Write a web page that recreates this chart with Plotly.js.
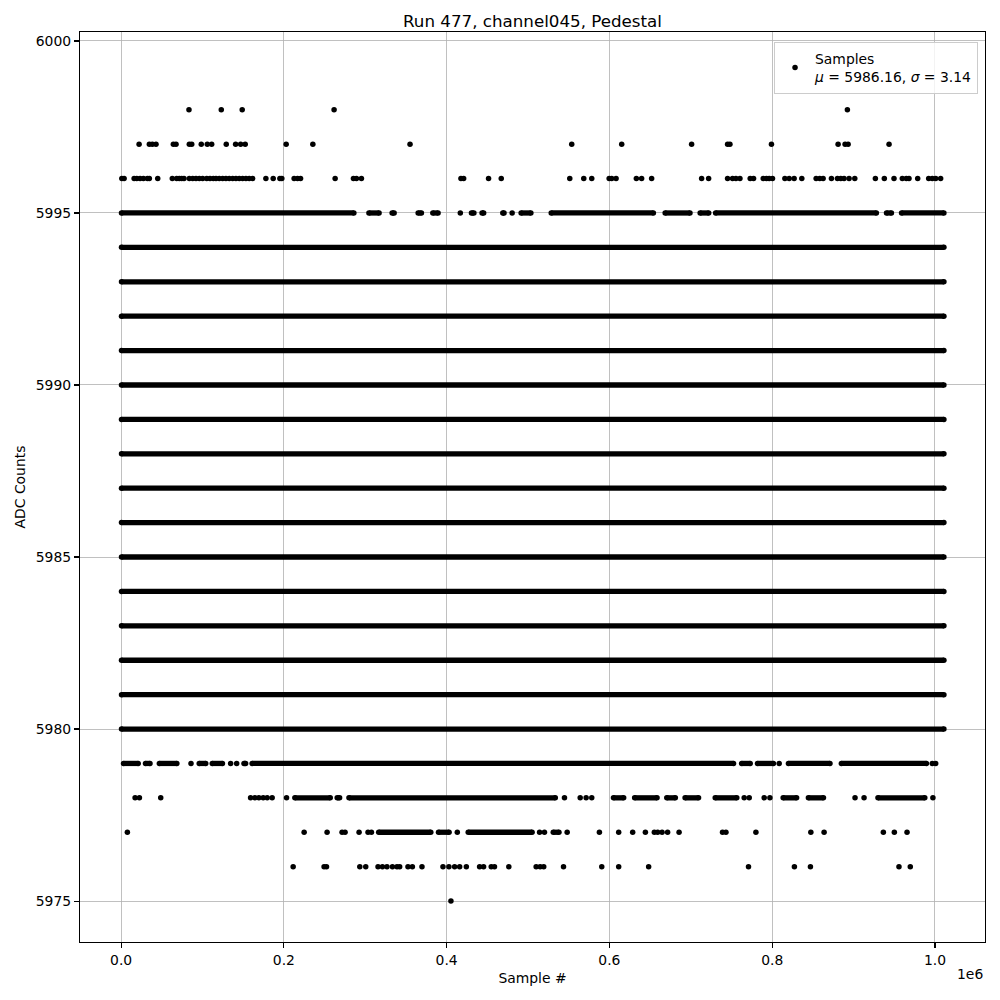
<!DOCTYPE html>
<html>
<head>
<meta charset="utf-8">
<script src="https://cdn.plot.ly/plotly-3.0.1.min.js"></script>
<style>html,body{margin:0;padding:0;background:#fff}#chart{width:1000px;height:1000px}</style>
</head>
<body>
<div id="chart"></div>
<script>
// Sample index values are in thousands of samples.
// Isolated samples (single dots), one array per ADC level
const dots5998 = [83.4, 123.1, 148.8, 261.7, 892.4];
const dots5997 = [22.1, 34.7, 38.4, 42.9, 64.2, 67.5, 83.8, 86.8, 98.5, 105.9, 111.3, 129.2, 140.7, 146.9, 152.5, 202.8, 235.6, 355.0, 553.7, 615.1, 701.0, 745.2, 748.1, 799.1, 881.0, 889.6, 893.3, 943.6];
const dots5996 = [0.9, 3.7, 16.0, 19.3, 23.3, 27.4, 32.3, 34.7, 45.0, 62.9, 68.3, 71.5, 74.5, 77.3, 83.8, 88.0, 92.0, 96.1, 100.2, 105.2, 109.2, 113.3, 116.6, 120.6, 124.8, 128.8, 132.9, 137.1, 141.1, 145.2, 149.3, 153.4, 157.4, 161.6, 177.9, 186.9, 195.1, 197.5, 212.6, 216.8, 220.5, 263.0, 285.5, 289.2, 295.3, 417.6, 420.9, 451.5, 467.1, 551.3, 568.5, 578.3, 599.7, 602.8, 608.2, 633.1, 639.6, 651.9, 713.3, 721.9, 745.2, 751.3, 755.5, 760.4, 773.0, 777.1, 789.0, 793.0, 796.3, 800.4, 815.6, 820.9, 827.0, 836.4, 854.0, 858.5, 862.6, 872.8, 880.2, 884.3, 888.3, 894.5, 901.5, 926.8, 937.8, 949.7, 959.9, 964.8, 968.1, 978.8, 992.3, 996.7, 1000.9, 1007.0];
const dots5995 = [416.8, 480.5];
const dots5979 = [85.9, 134.6, 142.0, 808.6, 996.7, 1000.9];
const dots5978 = [17.2, 22.5, 48.7, 159.1, 164.4, 169.3, 174.6, 179.5, 185.6, 203.3, 544.8, 564.1, 571.4, 578.3, 765.6, 771.8, 790.2, 797.2, 901.8, 912.9, 997.5];
const dots5977 = [7.7, 224.9, 253.1, 271.5, 275.2, 292.4, 303.4, 307.6, 413.1, 514.2, 520.2, 548.1, 587.7, 611.4, 628.6, 644.2, 655.2, 659.3, 664.7, 671.5, 685.6, 739.0, 743.2, 780.0, 847.5, 863.8, 936.6, 950.1, 965.7];
const dots5976 = [211.4, 249.4, 252.4, 293.3, 300.6, 315.7, 321.1, 326.7, 333.4, 339.0, 342.3, 352.5, 357.9, 369.7, 395.5, 402.8, 409.8, 416.0, 424.2, 440.5, 445.4, 454.8, 458.8, 476.4, 510.0, 514.9, 519.3, 543.6, 590.6, 611.4, 648.2, 770.9, 827.3, 847.0, 955.8, 969.7];
const dots5975 = [405.3];

// Continuous stretches of samples: [first, last] per ADC level
const fullRun = [[0.5, 1011.0]];
const runs5995 = [[0.5, 286.0], [304.5, 317.0], [333.0, 335.5], [365.0, 369.0], [383.0, 389.5], [430.5, 433.5], [443.5, 445.5], [469.0, 470.5], [491.5, 503.5], [528.5, 654.0], [668.5, 699.0], [711.5, 722.0], [730.5, 928.0], [940.5, 946.5], [959.0, 1011.0]];
const runs5979 = [[3.0, 21.0], [30.0, 35.5], [47.0, 68.5], [96.0, 104.0], [112.0, 124.5], [151.0, 153.0], [161.0, 752.5], [762.5, 773.0], [782.0, 801.5], [820.0, 871.0], [885.0, 989.5]];
const runs5978 = [[213.5, 257.0], [265.5, 268.5], [280.0, 533.5], [605.0, 617.5], [631.0, 658.5], [670.5, 681.0], [693.0, 709.5], [730.0, 756.5], [813.5, 830.0], [844.5, 863.0], [930.0, 987.5]];
const runs5977 = [[316.5, 380.5], [390.0, 403.0], [426.5, 505.0], [531.0, 538.0]];
const denseLevels = [5980, 5981, 5982, 5983, 5984, 5985, 5986, 5987, 5988, 5989, 5990, 5991, 5992, 5993, 5994];

const yTicks = [5975, 5980, 5985, 5990, 5995, 6000];
const xTicks = [0.0, 0.2, 0.4, 0.6, 0.8, 1.0];
const legendLabel = 'Samples<br><i>μ</i> = 5986.16, <i>σ</i> = 3.14';

const dotSets = [[5998, dots5998], [5997, dots5997], [5996, dots5996], [5995, dots5995], [5979, dots5979], [5978, dots5978], [5977, dots5977], [5976, dots5976], [5975, dots5975]];
const runSets = [[5995, runs5995], [5979, runs5979], [5978, runs5978], [5977, runs5977]].concat(denseLevels.map(l => [l, fullRun]));

const dx = [], dy = [];
dotSets.forEach(([lvl, arr]) => arr.forEach(v => { dx.push(v / 1000); dy.push(lvl); }));
const rx = [], ry = [];
runSets.forEach(([lvl, arr]) => arr.forEach(([a, b]) => { rx.push(a / 1000, b / 1000, null); ry.push(lvl, lvl, null); }));

const FONT = 'DejaVu Sans, sans-serif';
const traces = [
  { type: 'scatter', mode: 'lines+markers', x: rx, y: ry, connectgaps: false,
    line: { color: '#000', width: 5.3 }, marker: { color: '#000', size: 5.5 },
    showlegend: false, hoverinfo: 'skip' },
  { type: 'scatter', mode: 'markers', x: dx, y: dy, name: legendLabel,
    marker: { color: '#000', size: 5.5 }, showlegend: true }
];

const axisCommon = {
  showline: true, linecolor: '#000', linewidth: 1.1, mirror: true,
  ticks: 'outside', ticklen: 5, tickwidth: 1.1, tickcolor: '#000',
  showgrid: true, gridcolor: '#b0b0b0', gridwidth: 0.8, zeroline: false,
  tickfont: { family: FONT, size: 13.9, color: '#000' }
};

const layout = {
  width: 1000, height: 1000,
  margin: { l: 80, r: 15, t: 32, b: 58 },
  paper_bgcolor: '#fff', plot_bgcolor: '#fff',
  font: { family: FONT, color: '#000' },
  title: { text: 'Run 477, channel045, Pedestal', font: { family: FONT, size: 16.7, color: '#000' },
           x: 0.5325, xref: 'container', xanchor: 'center', y: 0.979, yref: 'container', yanchor: 'middle' },
  xaxis: Object.assign({}, axisCommon, {
    range: [-0.0505, 1.0615], tickvals: xTicks, tickformat: '.1f',
    title: { text: 'Sample #', font: { family: FONT, size: 13.9, color: '#000' }, standoff: 6 }
  }),
  yaxis: Object.assign({}, axisCommon, {
    range: [5973.81, 6000.26], tickvals: yTicks, tickformat: 'd',
    title: { text: 'ADC Counts', font: { family: FONT, size: 13.9, color: '#000' }, standoff: 6 }
  }),
  legend: {
    x: 0.9923, xanchor: 'right', y: 0.989, yanchor: 'top',
    bgcolor: 'rgba(255,255,255,0.8)', bordercolor: '#cccccc', borderwidth: 1,
    font: { family: FONT, size: 13.9, color: '#000' }
  },
  annotations: [
    { text: '1e6', xref: 'paper', yref: 'paper', x: 1, y: -0.024, xanchor: 'right', yanchor: 'top',
      showarrow: false, font: { family: FONT, size: 13.9, color: '#000' } }
  ]
};

Plotly.newPlot('chart', traces, layout, { displayModeBar: false, staticPlot: true });
</script>
</body>
</html>
